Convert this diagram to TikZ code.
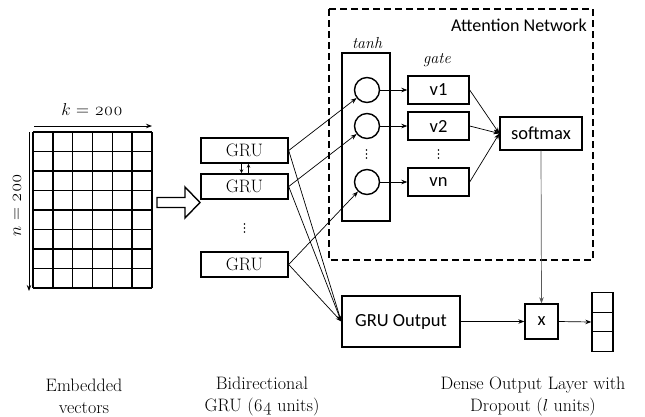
\documentclass[tikz,border=0pt]{standalone}
\usepackage{fontspec}
\setmainfont{Latin Modern Roman}[Numbers=OldStyle]
\newfontfamily\calib{Carlito}
\usetikzlibrary{arrows.meta,calc}
\begin{document}
\begin{tikzpicture}[x=1pt,y=-1pt,
  every node/.style={inner sep=0pt},
  tip/.style={-{Stealth[length=6pt,width=4.5pt]}},
  box/.style={draw,line width=1.4pt,fill=white},
  sans/.style={font=\calib\fontsize{18.5}{20}\selectfont},
  grubox/.style={box,minimum width=87pt,minimum height=25pt,font=\fontsize{18}{20}\selectfont},
  vbox/.style={box,sans,minimum width=61pt,minimum height=28pt},
  neuron/.style={circle,draw,line width=1.4pt,minimum size=25pt},
  cell/.style={box,minimum width=21pt,minimum height=19.5pt},
  lbl/.style={align=center,font=\fontsize{18}{22}\selectfont},
  conn/.style={line width=0.7pt,tip}]
\useasboundingbox (0,0) rectangle (645,416);
% embedded matrix
\foreach \i in {0,...,6} \draw[line width=1.5pt] ({33+\i*119/6},132) -- ({33+\i*119/6},288);
\foreach \j in {0,...,8} \draw[line width=1.5pt] (33,{132+\j*19.5}) -- (152,{132+\j*19.5});
\draw[line width=0.8pt,tip] (34,126) -- (152,126);
\draw[line width=0.8pt,tip] (29,132) -- (29,291);
\node (kl) at (92,110) {\fontsize{18}{20}\selectfont$k$ = 200};
\node[rotate=90] (nl) at (17,205) {\fontsize{18}{20}\selectfont$n$ = 200};
% hollow arrow
\draw[line width=1.4pt,fill=white] (157,197.5) -- (185,197.5) -- (185,187) -- (200,202.5) -- (185,218) -- (185,207.5) -- (157,207.5) -- cycle;
% GRU stack
\node[grubox] (g1) at (244.5,150.5) {GRU};
\node[grubox] (g2) at (244.5,186.5) {GRU};
\node[grubox] (g3) at (244.5,264.5) {GRU};
\foreach \d in {-4,0,4} \fill (244.5,{228+\d}) circle (0.9);
\draw[line width=0.8pt,-{Stealth[length=4pt,width=3.5pt]}] ($(g1.south)+(-3,0)$) -- ($(g2.north)+(-3,0)$);
\draw[line width=0.8pt,-{Stealth[length=4pt,width=3.5pt]}] ($(g2.north)+(4,0)$) -- ($(g1.south)+(4,0)$);
% attention network
\draw[line width=1.5pt,dash pattern=on 7pt off 4pt] (329,9) rectangle (593,260);
\node[anchor=east,font=\calib\fontsize{18}{20}\selectfont] (att) at (587,25) {Attention Network};
\node[box,minimum width=48pt,minimum height=168pt] (tanh) at (366,137) {};
\node[font=\fontsize{16}{18}\selectfont\itshape] (tanhl) at (367,43) {tanh};
\node[neuron] (c1) at (367,90) {};
\node[neuron] (c2) at (367,126) {};
\node[neuron] (c3) at (367,182) {};
\foreach \d in {-4,0,4} \fill (366.5,{154+\d}) circle (0.9);
\node[font=\fontsize{16}{18}\selectfont\itshape] (gatel) at (437,60) {gate};
\node[vbox] (v1) at (438.5,90) {v1};
\node[vbox] (v2) at (438.5,126) {v2};
\node[vbox] (vn) at (438.5,182) {vn};
\foreach \d in {-4,0,4} \fill (438.5,{154+\d}) circle (0.9);
\node[box,sans,minimum width=82pt,minimum height=33pt] (soft) at (541,133.5) {softmax};
% output part
\node[box,sans,minimum width=118pt,minimum height=51pt] (gout) at (401,321.5) {GRU Output};
\node[box,sans,minimum width=33pt,minimum height=35pt] (xb) at (541.5,321.5) {x};
\node[cell] (o1) at (602.5,302.5) {};
\node[cell] (o2) at (602.5,322) {};
\node[cell] (o3) at (602.5,341.5) {};
% connectors
\draw[conn] (g1.east) -- (c1);
\draw[conn] (g2.east) -- (c2);
\draw[conn] (g3.east) -- (c3);
\draw[conn] (g1.east) -- (gout.west);
\draw[conn] (g2.east) -- (gout.west);
\draw[conn] (g3.east) -- (gout.west);
\draw[conn] (c1) -- (v1);
\draw[conn] (c2) -- (v2);
\draw[conn] (c3) -- (vn);
\draw[conn] (v1.east) -- (soft.west);
\draw[conn] (v2.east) -- (soft.west);
\draw[conn] (vn.east) -- (soft.west);
\draw[conn,draw=black!65] (soft.south) -- (xb.north);
\draw[conn] (gout.east) -- (xb.west);
\draw[conn] (xb.east) -- (o2.west);
% bottom labels
\node[lbl] (l1) at (84,396) {Embedded\\vectors};
\node[lbl] (l2) at (262,396) {Bidirectional\\GRU (64 units)};
\node[lbl] (l3) at (533,396) {Dense Output Layer with\\Dropout ($l$ units)};
\end{tikzpicture}
\end{document}
